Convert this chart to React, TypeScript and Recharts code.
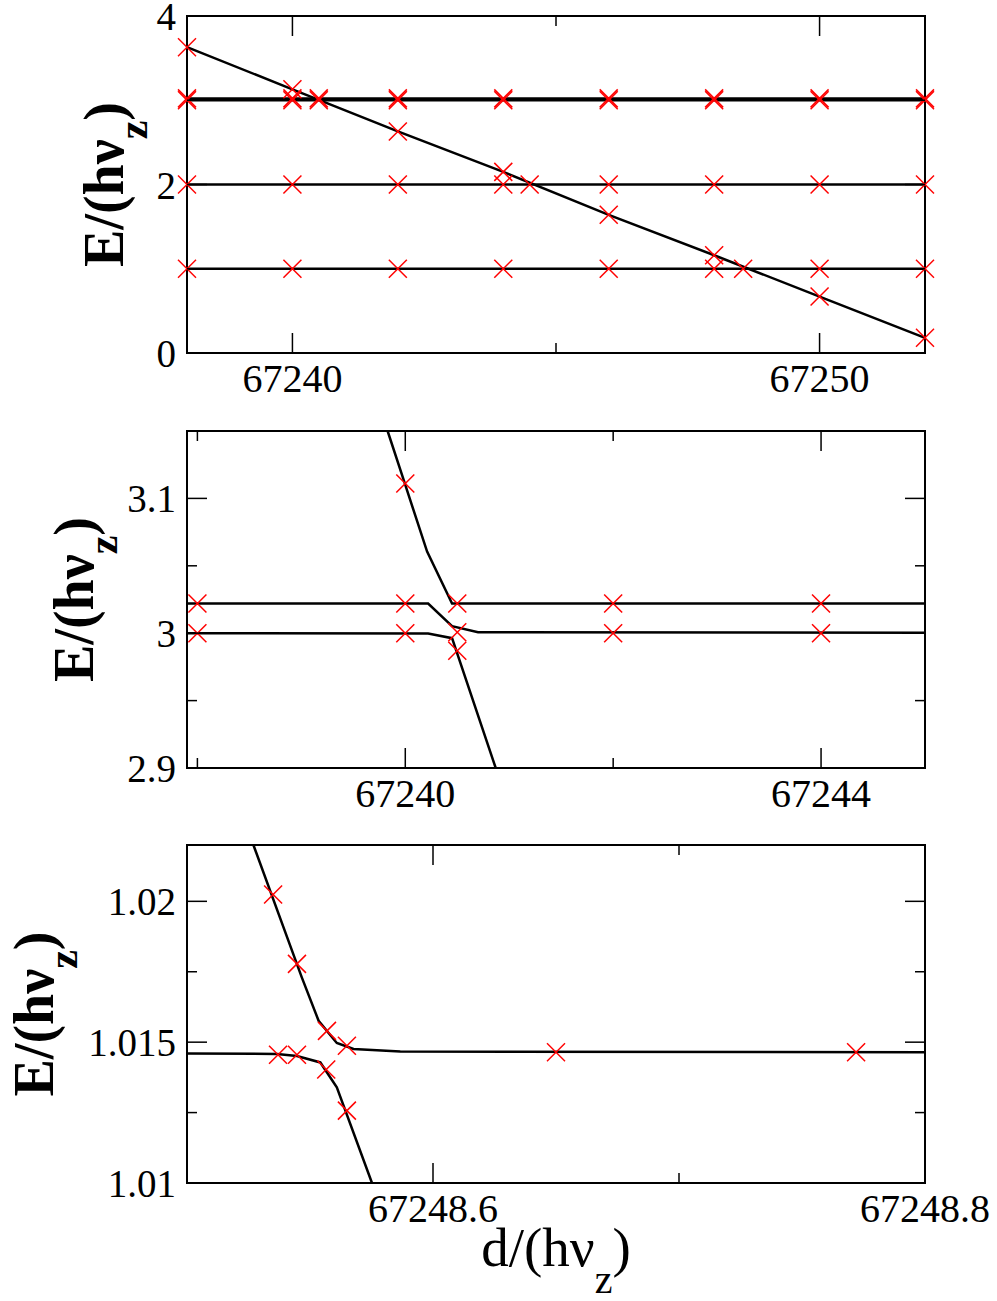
import React from "react";
import { ComposedChart, Line, Scatter, XAxis, YAxis, ReferenceArea } from "recharts";

const FONT = "Liberation Serif";

// top panel: whole sweep
const p1Grid = [67238, 67240, 67242, 67244, 67246, 67248, 67250, 67252];
const p1Diagonal = [3.63, 3.13, 2.63, 2.15, 1.64, 1.16, 0.67, 0.18];
const p1Levels = [1, 2, 3, 3.022];
const p1CrossX = [67240.5, 67240.5, 67244.5, 67248.55];
const p1CrossY = [3.0, 3.022, 2.0, 1.0];
const p1XTicks = [67240, 67245, 67250];
const p1XMajor = [67240, 67250];
const p1YTicks = [0, 1, 2, 3, 4];
const p1YMajor = [0, 2, 4];

// middle panel: zoom near E = 3
const p2UpperX = [67239.83, 67240.0, 67240.21, 67240.45, 67245];
const p2UpperY = [3.15, 3.11, 3.0605, 3.022, 3.022];
const p2MiddleX = [67237.9, 67240.22, 67240.45, 67240.7, 67245];
const p2MiddleY = [3.022, 3.022, 3.0052, 3.0007, 3.0003];
const p2LowerX = [67237.9, 67240.22, 67240.45, 67240.87];
const p2LowerY = [3.0, 2.9998, 2.9963, 2.9];
const p2MarkX = [67238, 67238, 67240, 67240, 67240, 67240.5, 67240.5, 67240.5, 67242, 67242, 67244, 67244];
const p2MarkY = [3.022, 3.0, 3.111, 3.022, 3.0, 3.022, 3.0007, 2.987, 3.022, 3.0, 3.022, 3.0];
const p2XTicks = [67238, 67240, 67242, 67244];
const p2XMajor = [67240, 67244];
const p2YTicks = [2.9, 2.95, 3.0, 3.05, 3.1];
const p2YMajor = [2.9, 3.0, 3.1];

// bottom panel: zoom near E = 1
const p3UpperX = [67248.527, 67248.5467, 67248.5535, 67248.5609, 67248.5677, 67248.5867, 67248.8];
const p3UpperY = [1.022, 1.01729, 1.01576, 1.01497, 1.01476, 1.01467, 1.01464];
const p3LowerX = [67248.5, 67248.5366, 67248.5447, 67248.5542, 67248.5609, 67248.5752];
const p3LowerY = [1.0146, 1.01458, 1.01451, 1.01428, 1.0134, 1.01];
const p3MarkX = [67248.535, 67248.5447, 67248.5569, 67248.565, 67248.537, 67248.5447, 67248.5566, 67248.565, 67248.65, 67248.772];
const p3MarkY = [1.02024, 1.01778, 1.0154, 1.01487, 1.01455, 1.01455, 1.01403, 1.01257, 1.01464, 1.01464];
const p3XTicks = [67248.6, 67248.7, 67248.8];
const p3XMajor = [67248.6, 67248.8];
const p3YTicks = [1.01, 1.0125, 1.015, 1.0175, 1.02];
const p3YMajor = [1.01, 1.015, 1.02];

const zip = (xs: number[], ys: number[]) => xs.map((x, i) => ({ x, y: ys[i] }));

const PLOT_LEFT = 187;
const PLOT_RIGHT = 925;
const W = 997;

function Cross(props: any) {
  const { cx, cy } = props;
  const s = 9;
  return (
    <g>
      <line x1={cx - s} y1={cy - s} x2={cx + s} y2={cy + s} stroke="#ff0000" strokeWidth={1.5} />
      <line x1={cx - s} y1={cy + s} x2={cx + s} y2={cy - s} stroke="#ff0000" strokeWidth={1.5} />
    </g>
  );
}

function XTick(props: any) {
  const { x, y, payload, majors, plotTop } = props;
  const major = majors.includes(payload.value);
  const len = major ? 20 : 10;
  return (
    <g>
      <line x1={x} y1={y} x2={x} y2={y - len} stroke="#000" strokeWidth={1.5} />
      <line x1={x} y1={plotTop} x2={x} y2={plotTop + len} stroke="#000" strokeWidth={1.5} />
      {major && (
        <text x={x} y={y + 39} textAnchor="middle" style={{ fontFamily: FONT }} fontSize={40} fill="#000">
          {String(payload.value)}
        </text>
      )}
    </g>
  );
}

function YTick(props: any) {
  const { x, y, payload, majors } = props;
  const major = majors.includes(payload.value);
  const len = major ? 20 : 10;
  return (
    <g>
      <line x1={x} y1={y} x2={x + len} y2={y} stroke="#000" strokeWidth={1.5} />
      <line x1={PLOT_RIGHT} y1={y} x2={PLOT_RIGHT - len} y2={y} stroke="#000" strokeWidth={1.5} />
      {major && (
        <text x={x - 11} y={y + 14} textAnchor="end" style={{ fontFamily: FONT }} fontSize={39} fill="#000">
          {String(payload.value)}
        </text>
      )}
    </g>
  );
}

function YTitle({ bx, cy }: any) {
  return (
    <text
      x={bx}
      y={cy}
      transform={`rotate(-90, ${bx}, ${cy})`}
      textAnchor="middle"
      style={{ fontFamily: FONT }}
      fontWeight="bold"
      fontSize={56}
      fill="#000"
    >
      E/(hν<tspan dy={24} fontSize={42}>z</tspan>
      <tspan dy={-24}>)</tspan>
    </text>
  );
}

function XTitle({ cx, by }: any) {
  return (
    <text x={cx} y={by} textAnchor="middle" style={{ fontFamily: FONT }} fontSize={55} fill="#000">
      d/(hν<tspan dy={27} fontSize={40}>z</tspan>
      <tspan dy={-27}>)</tspan>
    </text>
  );
}

interface PanelProps {
  top: number;
  height: number;
  plotTop: number;
  plotHeight: number;
  xDomain: [number, number];
  yDomain: [number, number];
  xTicks: number[];
  xMajor: number[];
  yTicks: number[];
  yMajor: number[];
  lines: { x: number; y: number }[][];
  marks: { x: number; y: number }[];
  titleX: number;
  xTitle?: boolean;
}

function Panel(p: PanelProps) {
  const xAxisHeight = p.height - p.plotTop - p.plotHeight;
  return (
    <div style={{ position: "absolute", left: 0, top: p.top, width: W, height: p.height }}>
      <ComposedChart
        width={W}
        height={p.height}
        margin={{ top: p.plotTop, right: W - PLOT_RIGHT, bottom: 0, left: 0 }}
      >
        <XAxis
          xAxisId="x"
          dataKey="x"
          type="number"
          domain={p.xDomain}
          ticks={p.xTicks}
          interval={0}
          height={xAxisHeight}
          tickSize={0}
          tickMargin={0}
          tickLine={false}
          axisLine={false}
          tick={<XTick majors={p.xMajor} plotTop={p.plotTop} />}
          label={p.xTitle ? <XTitle cx={(PLOT_LEFT + PLOT_RIGHT) / 2} by={436} /> : undefined}
        />
        <YAxis
          yAxisId="y"
          dataKey="y"
          type="number"
          domain={p.yDomain}
          ticks={p.yTicks}
          interval={0}
          width={PLOT_LEFT}
          tickSize={0}
          tickMargin={0}
          tickLine={false}
          axisLine={false}
          tick={<YTick majors={p.yMajor} />}
          label={<YTitle bx={p.titleX} cy={p.plotTop + p.plotHeight / 2} />}
        />
        <Scatter
          xAxisId="x"
          yAxisId="y"
          data={p.marks}
          shape={<Cross />}
          isAnimationActive={false}
        />
        {p.lines.map((d, i) => (
          <Line
            key={i}
            xAxisId="x"
            yAxisId="y"
            data={d}
            dataKey="y"
            type="linear"
            stroke="#000"
            strokeWidth={2.5}
            dot={false}
            activeDot={false}
            isAnimationActive={false}
          />
        ))}
        <ReferenceArea
          xAxisId="x"
          yAxisId="y"
          x1={p.xDomain[0]}
          x2={p.xDomain[1]}
          y1={p.yDomain[0]}
          y2={p.yDomain[1]}
          fill="none"
          fillOpacity={0}
          stroke="#000"
          strokeWidth={2}
          ifOverflow="visible"
        />
      </ComposedChart>
    </div>
  );
}

export default function App() {
  const p1Lines = [
    ...p1Levels.map((lv) => zip([p1Grid[0], p1Grid[p1Grid.length - 1]], [lv, lv])),
    zip(p1Grid, p1Diagonal),
  ];
  const p1Marks = [
    ...p1Levels.flatMap((lv) => p1Grid.map((x) => ({ x, y: lv }))),
    ...zip(p1Grid, p1Diagonal),
    ...zip(p1CrossX, p1CrossY),
  ];

  return (
    <div style={{ position: "absolute", left: 0, top: 0, width: W, height: 1301, background: "#fff" }}>
      <Panel
        top={0}
        height={415}
        plotTop={16}
        plotHeight={337}
        xDomain={[67238, 67252]}
        yDomain={[0, 4]}
        xTicks={p1XTicks}
        xMajor={p1XMajor}
        yTicks={p1YTicks}
        yMajor={p1YMajor}
        lines={p1Lines}
        marks={p1Marks}
        titleX={123}
      />
      <Panel
        top={415}
        height={415}
        plotTop={16}
        plotHeight={337}
        xDomain={[67237.9, 67245]}
        yDomain={[2.9, 3.15]}
        xTicks={p2XTicks}
        xMajor={p2XMajor}
        yTicks={p2YTicks}
        yMajor={p2YMajor}
        lines={[zip(p2UpperX, p2UpperY), zip(p2MiddleX, p2MiddleY), zip(p2LowerX, p2LowerY)]}
        marks={zip(p2MarkX, p2MarkY)}
        titleX={93}
      />
      <Panel
        top={830}
        height={471}
        plotTop={15}
        plotHeight={338}
        xDomain={[67248.5, 67248.8]}
        yDomain={[1.01, 1.022]}
        xTicks={p3XTicks}
        xMajor={p3XMajor}
        yTicks={p3YTicks}
        yMajor={p3YMajor}
        lines={[zip(p3UpperX, p3UpperY), zip(p3LowerX, p3LowerY)]}
        marks={zip(p3MarkX, p3MarkY)}
        titleX={53}
        xTitle
      />
    </div>
  );
}
